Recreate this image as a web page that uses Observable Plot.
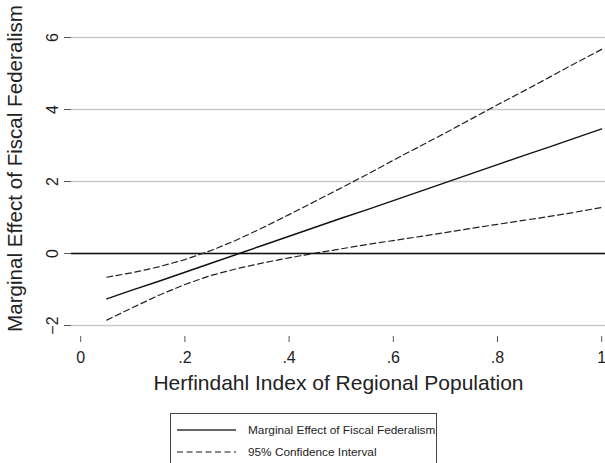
<!DOCTYPE html>
<html>
<head>
<meta charset="utf-8">
<script src="https://cdn.jsdelivr.net/npm/d3@7"></script>
<script src="https://cdn.jsdelivr.net/npm/@observablehq/plot@0.6"></script>
<style>
  html, body { margin: 0; padding: 0; background: #fff; }
  body { width: 605px; height: 463px; overflow: hidden; position: relative; font-family: "Liberation Sans", Arial, Helvetica, sans-serif; }
  #legend { position: absolute; left: 170px; top: 413px; width: 267px; height: 60px; border: 1px solid #444; box-sizing: border-box; background: #fff; }
  .lg-row { position: absolute; left: 0; height: 16px; display: flex; align-items: center; font-size: 11.8px; color: #222; white-space: nowrap; }
  .lg-row svg { margin-left: 6px; margin-right: 12px; }
</style>
</head>
<body>
<div id="chart"></div>
<div id="legend"></div>
<script>
// ---- data ----
const herfindahl = [0.05, 0.10, 0.15, 0.20, 0.25, 0.30, 0.35, 0.40, 0.45, 0.50,
                    0.55, 0.60, 0.65, 0.70, 0.75, 0.80, 0.85, 0.90, 0.95, 1.00];
const marginalEffect = [-1.26, -1.01, -0.77, -0.52, -0.27, -0.02, 0.23, 0.48, 0.73, 0.98,
                        1.22, 1.47, 1.72, 1.97, 2.22, 2.47, 2.72, 2.96, 3.21, 3.46];
const ciUpper = [-0.66, -0.53, -0.37, -0.17, 0.08, 0.38, 0.72, 1.08, 1.45, 1.82,
                 2.20, 2.59, 2.97, 3.35, 3.74, 4.13, 4.51, 4.90, 5.29, 5.67];
const ciLower = [-1.85, -1.50, -1.16, -0.86, -0.61, -0.42, -0.26, -0.12, 0.01, 0.13,
                 0.25, 0.36, 0.47, 0.58, 0.70, 0.81, 0.92, 1.03, 1.15, 1.28];
const yTicks = [-2, 0, 2, 4, 6];
const yTickLabels = ["\u22122", "0", "2", "4", "6"];
const xTicks = [0, 0.2, 0.4, 0.6, 0.8, 1];
const xTickLabels = ["0", ".2", ".4", ".6", ".8", "1"];
const seriesNames = ["Marginal Effect of Fiscal Federalism", "95% Confidence Interval"];
const xTitle = "Herfindahl Index of Regional Population";
const yTitle = "Marginal Effect of Fiscal Federalism";

const rows = herfindahl.map((h, i) => ({h, est: marginalEffect[i], up: ciUpper[i], lo: ciLower[i]}));
const font = "Liberation Sans, Arial, Helvetica, sans-serif";
const dash = "6,3.5";

const chart = Plot.plot({
  width: 605,
  height: 405,
  marginLeft: 71,
  marginRight: 0,
  marginTop: 0,
  marginBottom: 69,
  style: {fontFamily: font, background: "#fff", color: "#222"},
  x: {domain: [0, 1], range: [80.2, 601.2]},
  y: {domain: [-2, 6], range: [325, 37]},
  marks: [
    Plot.gridY(yTicks, {stroke: "#c8c8c8", strokeOpacity: 1, strokeWidth: 1.4}),
    Plot.ruleY([0], {stroke: "#111", strokeWidth: 1.4}),
    Plot.axisY({ticks: yTicks, tickSize: 7, tickPadding: 7, tickRotate: -90, stroke: "#555",
      tickFormat: (d) => yTickLabels[yTicks.indexOf(d)], fontSize: 16, label: null}),
    Plot.axisX({ticks: xTicks, tickSize: 6, tickPadding: 9, stroke: "#555",
      tickFormat: (d) => xTickLabels[xTicks.indexOf(d)], fontSize: 16, label: null}),
    Plot.text([yTitle], {frameAnchor: "left", dx: -56, rotate: -90, textAnchor: "middle",
      lineAnchor: "middle", fontSize: 20.6, fill: "#222"}),
    Plot.text([xTitle], {frameAnchor: "bottom", dy: 47, textAnchor: "middle",
      lineAnchor: "middle", fontSize: 21, fill: "#222"}),
    Plot.line(rows, {x: "h", y: "lo", stroke: "#222", strokeWidth: 1.2, strokeDasharray: dash}),
    Plot.line(rows, {x: "h", y: "up", stroke: "#222", strokeWidth: 1.2, strokeDasharray: dash}),
    Plot.line(rows, {x: "h", y: "est", stroke: "#111", strokeWidth: 1.4})
  ]
});
document.getElementById("chart").appendChild(chart);

// legend (HTML, below the SVG)
const legend = document.getElementById("legend");
const styles = [{dash: null, top: 8}, {dash: "6,3.5", top: 30}];
seriesNames.forEach((name, i) => {
  const row = document.createElement("div");
  row.className = "lg-row";
  row.style.top = styles[i].top + "px";
  const svg = d3.create("svg").attr("width", 59).attr("height", 4);
  svg.append("line").attr("x1", 0).attr("x2", 59).attr("y1", 2).attr("y2", 2)
    .attr("stroke", i === 0 ? "#333" : "#666").attr("stroke-width", 1.3)
    .attr("stroke-dasharray", styles[i].dash);
  row.appendChild(svg.node());
  const span = document.createElement("span");
  span.textContent = name;
  row.appendChild(span);
  legend.appendChild(row);
});
</script>
</body>
</html>
